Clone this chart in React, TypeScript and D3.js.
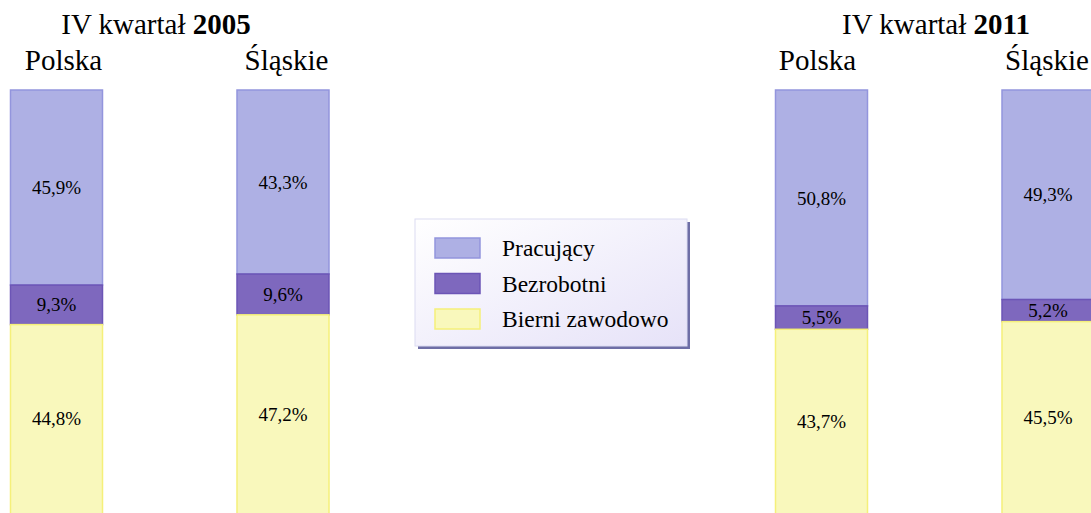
import React from "react";
import * as d3 from "d3";

const periods = ["2005", "2011"];
const regions = ["Polska", "Śląskie"];
const seriesNames = ["Pracujący", "Bezrobotni", "Bierni zawodowo"];
// values per period, per region: [Pracujący, Bezrobotni, Bierni zawodowo]
const values2005 = [
  [45.9, 9.3, 44.8],
  [43.3, 9.6, 47.2],
];
const values2011 = [
  [50.8, 5.5, 43.7],
  [49.3, 5.2, 45.5],
];
const valueLabels2005 = [
  ["45,9%", "9,3%", "44,8%"],
  ["43,3%", "9,6%", "47,2%"],
];
const valueLabels2011 = [
  ["50,8%", "5,5%", "43,7%"],
  ["49,3%", "5,2%", "45,5%"],
];

const fills = ["#aeb0e4", "#7e68be", "#f9f8bc"];
const strokes = ["#9395dd", "#6c55b6", "#f5f07a"];

const W = 1091;
const H = 513;
const FONT = "'Liberation Serif', 'Times New Roman', serif";

export default function App() {
  const allValues = [values2005, values2011];
  const allLabels = [valueLabels2005, valueLabels2011];
  const groupX = d3.scaleOrdinal<string, number>().domain(periods).range([10.5, 775.5]);
  const regionX = d3.scaleOrdinal<string, number>().domain(regions).range([0, 226.5]);
  const barW = 92;
  const top = 90;
  const y = d3.scaleLinear().domain([0, 100]).range([0, 425]);
  const titleCenter = [156, 936];
  const headerShift = [
    [7, 3.5],
    [-4, -1],
  ];

  const legendX = 415;
  const legendY = 219;
  const legendW = 272;
  const legendH = 127;

  return (
    <svg
      width={W}
      height={H}
      style={{ position: "absolute", left: 0, top: 0, background: "#fff" }}
      fontFamily={FONT}
    >
      <defs>
        <linearGradient id="lg" x1="0" y1="0" x2="1" y2="1">
          <stop offset="0%" stopColor="#ffffff" />
          <stop offset="100%" stopColor="#e6e2f8" />
        </linearGradient>
      </defs>
      {periods.map((p, pi) => (
        <g key={p}>
          <text x={titleCenter[pi]} y={34} fontSize={29} textAnchor="middle" fill="#000">
            IV kwartał <tspan fontWeight="bold">{p}</tspan>
          </text>
          {regions.map((r, ri) => {
            const x0 = groupX(p) + regionX(r);
            const vals = allValues[pi][ri];
            const stacked = d3.stack<number[]>().keys(["0", "1", "2"]).value((d, k) => d[+k])([vals]);
            return (
              <g key={r}>
                <text
                  x={x0 + barW / 2 + headerShift[pi][ri]}
                  y={70}
                  fontSize={29}
                  textAnchor="middle"
                  fill="#000"
                >
                  {r}
                </text>
                {stacked.map((s, si) => {
                  const y0 = top + y(s[0][0]);
                  const y1 = top + y(s[0][1]);
                  return (
                    <g key={si}>
                      <rect
                        x={x0}
                        y={y0}
                        width={barW}
                        height={y1 - y0}
                        fill={fills[si]}
                        stroke={strokes[si]}
                        strokeWidth={1.5}
                      />
                      <text
                        x={x0 + barW / 2}
                        y={(y0 + Math.min(y1, H)) / 2}
                        dy="0.35em"
                        fontSize={19}
                        textAnchor="middle"
                        fill="#000"
                      >
                        {allLabels[pi][ri][si]}
                      </text>
                    </g>
                  );
                })}
              </g>
            );
          })}
        </g>
      ))}
      <g>
        <rect x={legendX + 3} y={legendY + 3} width={legendW} height={legendH} fill="#6e6ea6" />
        <rect
          x={legendX}
          y={legendY}
          width={legendW}
          height={legendH}
          fill="url(#lg)"
          stroke="#dcdcf2"
          strokeWidth={1}
        />
        {seriesNames.map((n, i) => (
          <g key={n} transform={`translate(${legendX + 20},${legendY + 19 + i * 35.5})`}>
            <rect x={0} y={0} width={45} height={20} fill={fills[i]} stroke={strokes[i]} strokeWidth={1.5} />
            <text x={67} y={10} dy="0.35em" fontSize={23.5} fill="#000">
              {n}
            </text>
          </g>
        ))}
      </g>
    </svg>
  );
}
